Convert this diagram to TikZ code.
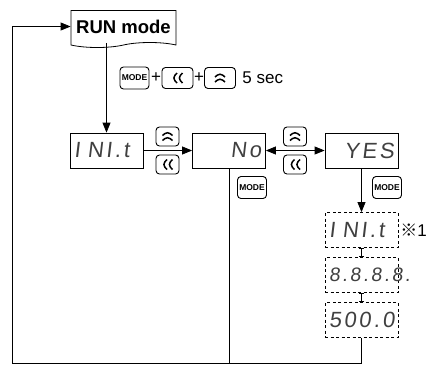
\documentclass[tikz,border=0pt]{standalone}
\usepackage{fontspec}
\setmainfont{Liberation Sans}
\newfontfamily\segfont{Liberation Sans}[FakeSlant=0.12,LetterSpace=12]
\newfontfamily\markfont{Noto Sans CJK JP}
\usetikzlibrary{arrows.meta,positioning,shapes.symbols,calc}

\tikzset{
  tip/.style={-{Triangle[length=10pt,width=8pt]}},
  runbox/.style={draw, line width=0.8pt, tape, tape bend top=none, tape bend height=5pt,
    minimum width=105pt, minimum height=37pt, inner sep=2pt, font=\bfseries\fontsize{18.5}{18.5}\selectfont},
  disp/.style={draw, line width=0.8pt, minimum width=73pt, minimum height=35pt, inner sep=0pt,
    text width=65pt, text=black!75, font=\segfont\fontsize{22}{22}\selectfont},
  dispdash/.style={disp, dash pattern=on 3pt off 2.5pt},
  key/.style={draw, rounded corners=3.5pt, line width=0.9pt, minimum width=23pt, minimum height=19pt, inner sep=0pt},
  modekey/.style={key, minimum width=29pt, minimum height=22pt, font=\bfseries\fontsize{8.5}{8.5}\selectfont},
  upkey/.style={key, path picture={
    \draw[line width=1.5pt] ($(path picture bounding box.center)+(-5pt,1pt)$) -- ++(5pt,4pt) -- ++(5pt,-4pt);
    \draw[line width=1.5pt] ($(path picture bounding box.center)+(-5pt,-4pt)$) -- ++(5pt,4pt) -- ++(5pt,-4pt);}},
  leftkey/.style={key, path picture={
    \draw[line width=1.5pt] ($(path picture bounding box.center)+(-0.5pt,5pt)$) -- ++(-4.5pt,-5pt) -- ++(4.5pt,-5pt);
    \draw[line width=1.5pt] ($(path picture bounding box.center)+(5pt,5pt)$) -- ++(-4.5pt,-5pt) -- ++(4.5pt,-5pt);}},
  bigkey/.style={minimum width=31pt, minimum height=21pt},
}

\begin{document}
\begin{tikzpicture}[x=1pt,y=-1pt,line width=0.8pt]
  \useasboundingbox (0,0) rectangle (428,365);

  \node[runbox] (run) at (123.5,26.5) {RUN mode};

  % key combination
  \node[modekey] (m_0) at (134.5,78) {MODE};
  \node[inner sep=0pt, font=\fontsize{17}{17}\selectfont] (plus_1) at (156,78) {+};
  \node[leftkey, bigkey] (l_0) at (177.5,78) {};
  \node[inner sep=0pt, font=\fontsize{17}{17}\selectfont] (plus_2) at (199,78) {+};
  \node[upkey, bigkey] (u_0) at (220,78) {};
  \node[anchor=west, inner sep=0pt, font=\fontsize{17}{17}\selectfont] (sec) at (242,78) {5 sec};

  % displays
  \node[disp, align=left] (ini) at (106.5,150.5) {I NI.t};
  \node[disp, align=right, on grid, right=122.5pt of ini] (no) {No};
  \node[disp, align=right, on grid, right=132.5pt of no] (yes) {YES};
  \node[dispdash, align=left] (ini_2) at (361.5,230) {I NI.t};
  \node[dispdash, align=left, font=\segfont\fontsize{19.5}{19.5}\selectfont] (test) at (361.5,275) {8.8.8.8.};
  \node[dispdash, align=left] (set) at (361.5,320) {500.0};
  \node[anchor=west, inner sep=0pt, font=\fontsize{17}{17}\selectfont] (note) at (400,230) {{\markfont ※}1};

  % keys at the arrows
  \node[upkey] (u_1) at (167.5,136.5) {};
  \node[leftkey] (l_1) at (167.5,164.5) {};
  \node[upkey] (u_2) at (295,136.5) {};
  \node[leftkey] (l_2) at (295,164.5) {};
  \node[modekey] (m_1) at (252,187.5) {MODE};
  \node[modekey] (m_2) at (387,187.5) {MODE};

  \coordinate (corner) at (12,363);

  \draw[tip] (ini.north |- run.south) -- (ini.north);
  \draw[tip] (ini) -- (no);
  \draw[{Triangle[length=10pt,width=8pt]}-{Triangle[length=10pt,width=8pt]}] (no) -- (yes);
  \draw[tip] (yes) -- (ini_2);
  \draw[{Bar[width=5pt]}-{Bar[width=5pt]}] (ini_2) -- (test);
  \draw[{Bar[width=5pt]}-{Bar[width=5pt]}] (test) -- (set);
  \draw (no.south) -- (no.south |- corner);
  \draw[tip] (set.south) |- (corner) |- (run.west);
\end{tikzpicture}
\end{document}
